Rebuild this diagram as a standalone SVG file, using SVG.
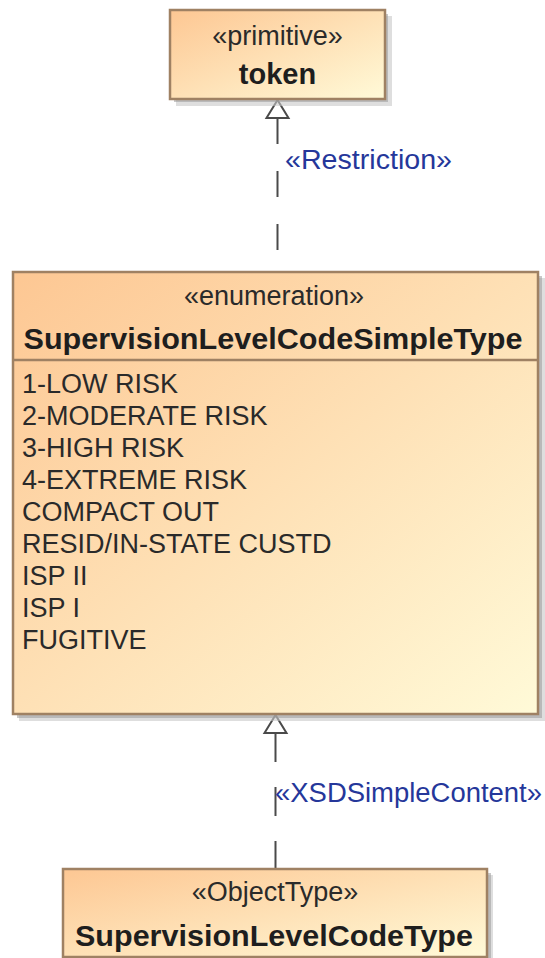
<svg xmlns="http://www.w3.org/2000/svg" width="545" height="958" viewBox="0 0 545 958">
<defs>
<linearGradient id="fillG" x1="0" y1="0" x2="1" y2="1">
<stop offset="0" stop-color="#fdc793"/>
<stop offset="1" stop-color="#fffad8"/>
</linearGradient>
<style>
.box{fill:url(#fillG);stroke:#9f8163;stroke-width:2.5}
.shadow{fill:#9a9a9a;opacity:0.55}
.shadow2{fill:#c8c8c8;opacity:0.6}
.st{font-family:"Liberation Sans",Arial,sans-serif;font-size:27px;fill:#2a2a2a;text-anchor:middle}
.nm{font-family:"Liberation Sans",Arial,sans-serif;font-size:29px;font-weight:bold;fill:#1e1e1e;text-anchor:middle}
.lit{font-family:"Liberation Sans",Arial,sans-serif;font-size:27px;fill:#2a2a2a}
.lbl{font-family:"Liberation Sans",Arial,sans-serif;font-size:27px;fill:#25379a}
.ln{stroke:#4a4a4a;stroke-width:2;fill:none}
.hd{fill:#ffffff;stroke:#4a4a4a;stroke-width:2;stroke-linejoin:miter}
</style>
</defs>

<g id="connectors">
<g id="restriction">
<line class="ln" x1="277.5" y1="118" x2="277.5" y2="272" stroke-dasharray="26 27"/>
<polygon class="hd" points="277.5,100 266.5,118 288.5,118"/>
<text class="lbl" x="285" y="169" textLength="167" lengthAdjust="spacingAndGlyphs">«Restriction»</text>
</g>
<g id="xsdsimplecontent">
<line class="ln" x1="275.5" y1="733" x2="275.5" y2="869" stroke-dasharray="29 25"/>
<polygon class="hd" points="275.5,715 264.5,733 286.5,733"/>
<text class="lbl" x="275" y="802" textLength="267" lengthAdjust="spacingAndGlyphs">«XSDSimpleContent»</text>
</g>
</g>

<g id="token">
<rect class="shadow2" x="176" y="16" width="216" height="90"/>
<rect class="shadow" x="174" y="14" width="214" height="88"/>
<rect class="box" x="170" y="10" width="215" height="89"/>
<text class="st" x="277.5" y="45">«primitive»</text>
<text class="nm" x="277.5" y="84">token</text>
</g>

<g id="SupervisionLevelCodeSimpleType">
<rect class="shadow2" x="19" y="278" width="526" height="443"/>
<rect class="shadow" x="17" y="276" width="525" height="442"/>
<rect class="box" x="13" y="272" width="525" height="442"/>
<line x1="13" y1="360" x2="538" y2="360" stroke="#9f8163" stroke-width="2.5"/>
<text class="st" x="274" y="305">«enumeration»</text>
<text class="nm" x="273" y="349" textLength="499" lengthAdjust="spacingAndGlyphs">SupervisionLevelCodeSimpleType</text>
<text class="lit" x="22" y="393">1-LOW RISK</text>
<text class="lit" x="22" y="425">2-MODERATE RISK</text>
<text class="lit" x="22" y="457">3-HIGH RISK</text>
<text class="lit" x="22" y="489">4-EXTREME RISK</text>
<text class="lit" x="22" y="521">COMPACT OUT</text>
<text class="lit" x="22" y="553">RESID/IN-STATE CUSTD</text>
<text class="lit" x="22" y="585">ISP II</text>
<text class="lit" x="22" y="617">ISP I</text>
<text class="lit" x="22" y="649">FUGITIVE</text>
</g>

<g id="SupervisionLevelCodeType">
<rect class="shadow2" x="69" y="875" width="424" height="88"/>
<rect class="shadow" x="67" y="873" width="424" height="88"/>
<rect class="box" x="63" y="869" width="424" height="88"/>
<text class="st" x="275" y="901">«ObjectType»</text>
<text class="nm" x="274" y="946" textLength="398" lengthAdjust="spacingAndGlyphs">SupervisionLevelCodeType</text>
</g>
</svg>
